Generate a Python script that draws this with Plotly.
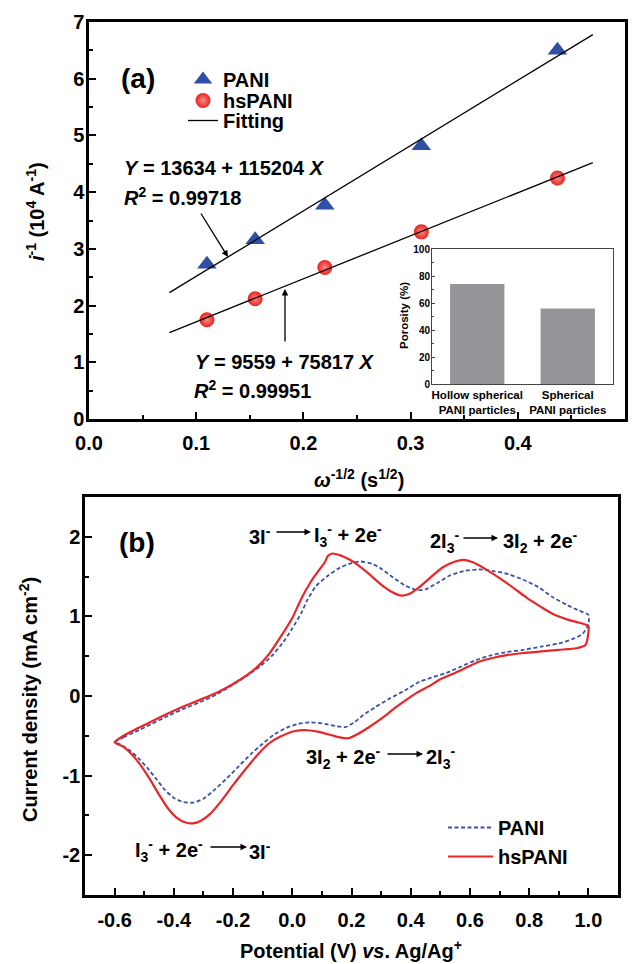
import plotly.graph_objects as go

# ---------------- Panel (a) data ----------------
omega = [0.110, 0.155, 0.220, 0.310, 0.437]
inv_i_pani = [2.73, 3.16, 3.77, 4.82, 6.50]
inv_i_hspani = [1.75, 2.12, 2.67, 3.30, 4.25]
fit_x = [0.075, 0.47]
fit_pani = (13634, 115204)     # intercept, slope (A^-1)
fit_hspani = (9559, 75817)

# Inset data
porosity_cats = ["Hollow spherical<br>PANI particles", "Spherical<br>PANI particles"]
porosity = [74, 56]

# ---------------- Panel (b) data (CV) ----------------
hs_fwd_x = [-0.60, -0.57, -0.53, -0.48, -0.42, -0.36, -0.30, -0.25, -0.20, -0.15, -0.12, -0.08,
            -0.04, 0.00, 0.03, 0.06, 0.09, 0.11, 0.12, 0.135, 0.16, 0.19, 0.22, 0.26, 0.30, 0.34,
            0.37, 0.40, 0.43, 0.47, 0.51, 0.55, 0.58, 0.61, 0.65, 0.70, 0.75, 0.79, 0.84, 0.88,
            0.93, 0.97, 1.00]
hs_fwd_y = [-0.58, -0.50, -0.42, -0.33, -0.22, -0.12, -0.03, 0.05, 0.15, 0.27, 0.36, 0.52,
            0.74, 0.98, 1.22, 1.42, 1.58, 1.68, 1.76, 1.79, 1.77, 1.72, 1.65, 1.53, 1.40, 1.30,
            1.26, 1.29, 1.37, 1.50, 1.62, 1.69, 1.71, 1.68, 1.60, 1.48, 1.35, 1.24, 1.12, 1.03,
            0.96, 0.92, 0.88]
hs_rev_x = [1.00, 0.99, 0.96, 0.90, 0.84, 0.78, 0.72, 0.68, 0.63, 0.59, 0.55, 0.50, 0.465,
            0.42, 0.38, 0.35, 0.31, 0.26, 0.22, 0.19, 0.16, 0.13, 0.09, 0.05, 0.01, -0.04, -0.08,
            -0.12, -0.16, -0.20, -0.24, -0.28, -0.31, -0.335, -0.36, -0.39, -0.42, -0.45, -0.48,
            -0.51, -0.54, -0.57, -0.60]
hs_rev_y = [0.80, 0.64, 0.60, 0.58, 0.56, 0.54, 0.51, 0.48, 0.43, 0.36, 0.29, 0.21, 0.13,
            0.04, -0.06, -0.14, -0.26, -0.39, -0.48, -0.53, -0.52, -0.49, -0.45, -0.43, -0.44,
            -0.51, -0.60, -0.75, -0.93, -1.12, -1.32, -1.49, -1.57, -1.60, -1.59, -1.53, -1.41,
            -1.24, -1.05, -0.88, -0.74, -0.64, -0.58]

pani_fwd_x = [-0.60, -0.57, -0.53, -0.48, -0.42, -0.36, -0.30, -0.25, -0.21, -0.16, -0.11,
              -0.07, -0.03, 0.00, 0.03, 0.05, 0.08, 0.12, 0.16, 0.20, 0.23, 0.27, 0.30, 0.34,
              0.38, 0.42, 0.45, 0.49, 0.53, 0.58, 0.63, 0.68, 0.73, 0.78, 0.83, 0.88, 0.93,
              0.97, 1.00]
pani_fwd_y = [-0.58, -0.52, -0.45, -0.36, -0.25, -0.15, -0.06, 0.03, 0.12, 0.24, 0.37,
              0.50, 0.68, 0.85, 1.04, 1.20, 1.38, 1.51, 1.61, 1.67, 1.69, 1.66, 1.60, 1.49,
              1.39, 1.33, 1.34, 1.42, 1.51, 1.57, 1.59, 1.57, 1.53, 1.46, 1.37, 1.24, 1.14,
              1.07, 1.02]
pani_rev_x = [1.00, 0.98, 0.95, 0.90, 0.84, 0.78, 0.72, 0.67, 0.62, 0.57, 0.52, 0.47, 0.43,
              0.38, 0.33, 0.28, 0.24, 0.21, 0.18, 0.15, 0.11, 0.06, 0.02, -0.02, -0.06, -0.10,
              -0.14, -0.18, -0.22, -0.26, -0.30, -0.335, -0.37, -0.40, -0.43, -0.46, -0.49,
              -0.52, -0.55, -0.58, -0.60]
pani_rev_y = [0.90, 0.78, 0.72, 0.66, 0.62, 0.58, 0.55, 0.51, 0.45, 0.37, 0.29, 0.23, 0.18,
              0.07, -0.03, -0.14, -0.24, -0.33, -0.39, -0.38, -0.35, -0.33, -0.35, -0.40,
              -0.48, -0.60, -0.73, -0.88, -1.03, -1.17, -1.29, -1.34, -1.33, -1.28, -1.18,
              -1.04, -0.90, -0.78, -0.68, -0.61, -0.58]

# Tick labels
a_xticks = [0.0, 0.1, 0.2, 0.3, 0.4, 0.5]
a_xlabels = ["0.0", "0.1", "0.2", "0.3", "0.4", "0.5"]
a_yticks = [0, 1, 2, 3, 4, 5, 6, 7]
b_xticks = [-0.6, -0.4, -0.2, 0.0, 0.2, 0.4, 0.6, 0.8, 1.0]
b_xlabels = ["-0.6", "-0.4", "-0.2", "0.0", "0.2", "0.4", "0.6", "0.8", "1.0"]
b_yticks = [-2, -1, 0, 1, 2]
b_ylabels = ["-2", "-1", "0", "1", "2"]
inset_yticks = [0, 20, 40, 60, 80, 100]

# ---------------- styling ----------------
# the page body has an 8px margin, so the figure is 630x956 and offset by 8px
OFF = 8
W, H = 630, 956
FONT = "Liberation Sans, Arial, sans-serif"
BLUE = "#2f4fa6"
RED = "#e8221e"


def px(x):
    return (x - OFF) / W


def py(y):
    return 1 - (y - OFF) / H


fit_pani_y = [(fit_pani[0] + fit_pani[1] * x) / 1e4 for x in fit_x]
fit_hs_y = [(fit_hspani[0] + fit_hspani[1] * x) / 1e4 for x in fit_x]

fig = go.Figure()

fig.add_trace(go.Scatter(x=omega, y=inv_i_pani, mode="markers", name="PANI",
                         marker=dict(symbol="triangle-up", size=17, color=BLUE),
                         xaxis="x", yaxis="y", legend="legend"))
fig.add_trace(go.Scatter(x=omega, y=inv_i_hspani, mode="markers", name="hsPANI",
                         marker=dict(symbol="circle", size=15, color=RED,
                                     line=dict(width=0),
                                     gradient=dict(type="radial", color="#ff8a86")),
                         xaxis="x", yaxis="y", legend="legend3"))
fig.add_trace(go.Scatter(x=fit_x, y=fit_pani_y, mode="lines", name="Fitting",
                         line=dict(color="black", width=1.3),
                         xaxis="x", yaxis="y", legend="legend4"))
fig.add_trace(go.Scatter(x=fit_x, y=fit_hs_y, mode="lines", showlegend=False,
                         line=dict(color="black", width=1.3),
                         xaxis="x", yaxis="y"))

fig.add_trace(go.Bar(x=porosity_cats, y=porosity, width=0.6, marker_color="#939598",
                     marker_line_width=0, showlegend=False, xaxis="x3", yaxis="y3"))

fig.add_trace(go.Scatter(x=pani_fwd_x + pani_rev_x, y=pani_fwd_y + pani_rev_y, mode="lines",
                         name="PANI",
                         line=dict(color="#3b51a8", width=1.8, dash="4px,2.5px",
                                   shape="spline", smoothing=0.6),
                         xaxis="x2", yaxis="y2", legend="legend2"))
fig.add_trace(go.Scatter(x=hs_fwd_x + hs_rev_x, y=hs_fwd_y + hs_rev_y, mode="lines",
                         name="hsPANI",
                         line=dict(color="#e8262a", width=2.2, shape="spline", smoothing=0.6),
                         xaxis="x2", yaxis="y2", legend="legend2"))

axis_common = dict(showgrid=False, zeroline=False, showline=True, linecolor="black",
                   linewidth=2.5, mirror=True, ticks="inside", ticklen=7, tickwidth=2,
                   tickcolor="black", automargin=False,
                   tickfont=dict(family=FONT, size=20, color="black", weight="bold"))

leg_font = dict(family=FONT, size=20, color="black", weight="bold")


def legend_at(x, y_top, itemwidth=30):
    return dict(x=px(x), y=py(y_top), xanchor="left", yanchor="top",
                bgcolor="rgba(0,0,0,0)", itemwidth=itemwidth, font=leg_font)


fig.update_layout(
    width=W, height=H, margin=dict(l=0, r=0, t=0, b=0),
    paper_bgcolor="white", plot_bgcolor="rgba(0,0,0,0)",
    font=dict(family=FONT, color="black"),
    xaxis=dict(domain=[px(89), px(625)], range=[0, 0.5], anchor="y",
               tickmode="array", tickvals=a_xticks, ticktext=a_xlabels,
               ticklabelstandoff=4,
               minor=dict(ticks="inside", ticklen=4, tickwidth=2, tickcolor="black",
                          tickmode="linear", tick0=0, dtick=0.05),
               **axis_common),
    yaxis=dict(domain=[py(419), py(22)], range=[0, 7], anchor="x",
               tickmode="array", tickvals=a_yticks, ticklabelstandoff=-2,
               minor=dict(ticks="inside", ticklen=4, tickwidth=2, tickcolor="black",
                          tickmode="linear", tick0=0, dtick=0.5),
               **axis_common),
    xaxis2=dict(domain=[px(85), px(618)], range=[-0.7, 1.1], anchor="y2",
                tickmode="array", tickvals=b_xticks, ticktext=b_xlabels,
                ticklabelstandoff=5,
                minor=dict(ticks="inside", ticklen=4, tickwidth=2, tickcolor="black",
                           tickmode="linear", tick0=-0.7, dtick=0.1),
                **axis_common),
    yaxis2=dict(domain=[py(895), py(497)], range=[-2.5, 2.5], anchor="x2",
                tickmode="array", tickvals=b_yticks, ticktext=b_ylabels,
                ticklabelstandoff=-2,
                minor=dict(ticks="inside", ticklen=4, tickwidth=2, tickcolor="black",
                           tickmode="linear", tick0=-2.5, dtick=0.5),
                **axis_common),
    xaxis3=dict(domain=[px(432), px(613)], anchor="y3", showgrid=False, zeroline=False,
                showline=True, linecolor="#444", linewidth=1, mirror=True, ticks="",
                automargin=False,
                tickfont=dict(family=FONT, size=11.5, color="black", weight="bold")),
    yaxis3=dict(domain=[py(384), py(249)], range=[0, 100], anchor="x3", showgrid=False,
                zeroline=False, showline=True, linecolor="#444", linewidth=1, mirror=True,
                ticks="inside", ticklen=3, tickwidth=1, tickcolor="#444", automargin=False,
                tickmode="array", tickvals=inset_yticks, ticklabelstandoff=-1,
                minor=dict(ticks="inside", ticklen=2, tickwidth=1, tickcolor="#444",
                           tickmode="linear", tick0=0, dtick=10),
                tickfont=dict(family=FONT, size=10, color="black", weight="bold")),
    legend=legend_at(183, 60),
    legend3=legend_at(183, 81),
    legend4=legend_at(183, 101),
    legend2=legend_at(443, 808, itemwidth=45),
)

ann = []


def text(x, y, s, size=20, xanchor="center", angle=0):
    ann.append(dict(x=px(x), y=py(y), xref="paper", yref="paper", text=s, showarrow=False,
                    xanchor=xanchor, yanchor="middle", textangle=angle,
                    font=dict(family=FONT, size=size, color="black")))


def arrow(x_head, y_head, dx, dy, width=1.3, size=1.0):
    ann.append(dict(x=px(x_head), y=py(y_head), xref="paper", yref="paper", text="",
                    showarrow=True, ax=dx, ay=dy, arrowhead=2, arrowsize=size,
                    arrowwidth=width, arrowcolor="black", standoff=0, startstandoff=0))


# axis titles
text(36, 212, "<b><i>i</i><sup>-1</sup> (10<sup>4</sup> A<sup>-1</sup>)</b>", angle=-90)
text(359, 478, "<b><i>ω</i><sup>-1/2</sup> (s<sup>1/2</sup>)</b>")
text(28, 700, "<b>Current density (mA cm<sup>-2</sup>)</b>", angle=-90)
text(351, 949, "<b>Potential (V) <i>vs</i>. Ag/Ag<sup>+</sup></b>")
text(404, 316, "<b>Porosity (%)</b>", size=11.5, angle=-90)

# panel labels
text(138, 79, "<b>(a)</b>", size=28)
text(137, 542, "<b>(b)</b>", size=28)

# panel (a) equations
text(122, 168, "<b><i>Y</i> = 13634 + 115204 <i>X</i></b>", xanchor="left")
text(122, 196, "<b><i>R</i><sup>2</sup> = 0.99718</b>", xanchor="left")
arrow(228, 257, -28, -45)
text(193, 362, "<b><i>Y</i> = 9559 + 75817 <i>X</i></b>", xanchor="left")
text(192, 390, "<b><i>R</i><sup>2</sup> = 0.99951</b>", xanchor="left")
arrow(285, 289, 0, 54)

# panel (b) reactions
text(273, 535, "<b>3I<sup>-</sup></b>", xanchor="right")
arrow(311, 532, -36, 0)
text(312, 535, "<b>I<sub>3</sub><sup>-</sup> + 2e<sup>-</sup></b>", xanchor="left")

text(461, 541, "<b>2I<sub>3</sub><sup>-</sup></b>", xanchor="right")
arrow(498, 538, -36, 0)
text(501, 541, "<b>3I<sub>2</sub> + 2e<sup>-</sup></b>", xanchor="left")

text(383, 757, "<b>3I<sub>2</sub> + 2e<sup>-</sup></b>", xanchor="right")
arrow(423, 754, -37, 0)
text(424, 757, "<b>2I<sub>3</sub><sup>-</sup></b>", xanchor="left")

text(205, 850, "<b>I<sub>3</sub><sup>-</sup> + 2e<sup>-</sup></b>", xanchor="right")
arrow(247, 847, -38, 0)
text(247, 850, "<b>3I<sup>-</sup></b>", xanchor="left")

fig.update_layout(annotations=ann)

fig.write_html("out.html")
